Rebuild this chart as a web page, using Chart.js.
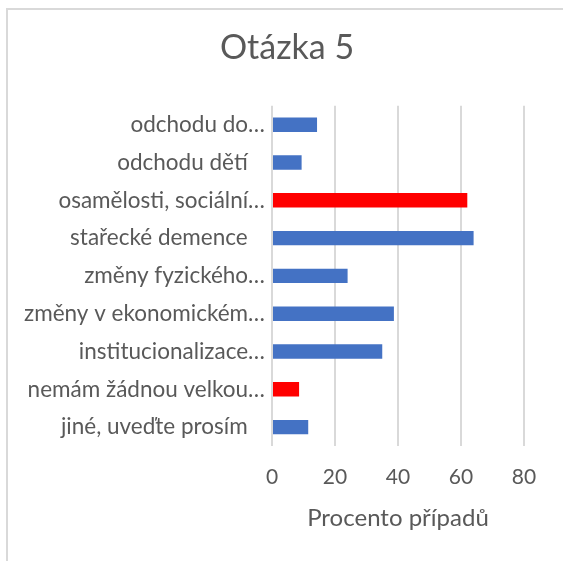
<!DOCTYPE html>
<html>
<head>
<meta charset="utf-8">
<script src="https://cdn.jsdelivr.net/npm/chart.js@4"></script>
<style>
  html, body { margin: 0; padding: 0; background: #fff; overflow: hidden; }
  #wrap { position: relative; width: 563px; height: 561px; }
  #frame { position: absolute; left: 6px; top: 8px; width: 600px; height: 600px;
           border: 2px solid #d9d9d9; box-sizing: border-box; }
  #chart { position: absolute; left: 0; top: 0; }
</style>
</head>
<body>
<div id="wrap">
  <div id="frame"></div>
  <canvas id="chart" width="563" height="561"></canvas>
</div>
<script>
// categories top to bottom, as shown (Excel truncates long ones)
const categories = [
  'odchodu do…',
  'odchodu dětí   ',
  'osamělosti, sociální…',
  'stařecké demence   ',
  'změny fyzického…',
  'změny v ekonomickém…',
  'institucionalizace…',
  'nemám žádnou velkou…',
  'jiné, uveďte prosím   '
];
const values = [14.3, 9.4, 62, 64, 24, 38.7, 35, 8.6, 11.5];
const highlighted = [2, 7]; // bars drawn in red
const xTicks = [0, 20, 40, 60, 80];

const FONT = 'Lato';
const textColor = '#595959';

const ctx = document.getElementById('chart').getContext('2d');

new Chart(ctx, {
  type: 'bar',
  data: {
    labels: categories,
    datasets: [{
      data: values,
      backgroundColor: values.map((v, i) => highlighted.includes(i) ? '#ff0000' : '#4472c4'),
      categoryPercentage: 0.76,
      barPercentage: 0.5
    }]
  },
  options: {
    indexAxis: 'y',
    responsive: false,
    animation: false,
    layout: { padding: { left: 11, right: 0, top: 0, bottom: 0 } },
    plugins: {
      legend: { display: false },
      tooltip: { enabled: false },
      title: {
        display: true,
        text: 'Otázka 5',
        color: textColor,
        font: { family: FONT, size: 34, weight: 'normal' },
        padding: { top: 28, bottom: 37 }
      }
    },
    scales: {
      x: {
        min: 0,
        max: 80,
        afterBuildTicks: (scale) => { scale.ticks = xTicks.map(v => ({ value: v })); },
        afterFit: (scale) => { scale.height = 115; },
        grid: { color: '#d9d9d9', lineWidth: 2, drawTicks: false },
        border: { display: false },
        ticks: {
          color: textColor,
          padding: 19,
          font: { family: FONT, size: 21 }
        },
        title: {
          display: true,
          text: 'Procento případů',
          color: textColor,
          font: { family: FONT, size: 24 },
          padding: { top: 0, bottom: 28 }
        }
      },
      y: {
        afterFit: (scale) => { scale.width = 261; },
        grid: { display: false, drawTicks: false },
        border: { display: false },
        ticks: {
          autoSkip: false,
          color: textColor,
          padding: 7,
          font: { family: FONT, size: 22.5 }
        }
      },
      // empty right-hand axis, only reserves the margin right of the plot
      yRight: {
        type: 'category',
        position: 'right',
        afterFit: (scale) => { scale.width = 39; },
        grid: { display: false, drawTicks: false },
        border: { display: false },
        ticks: { display: false }
      }
    }
  }
});
</script>
</body>
</html>
